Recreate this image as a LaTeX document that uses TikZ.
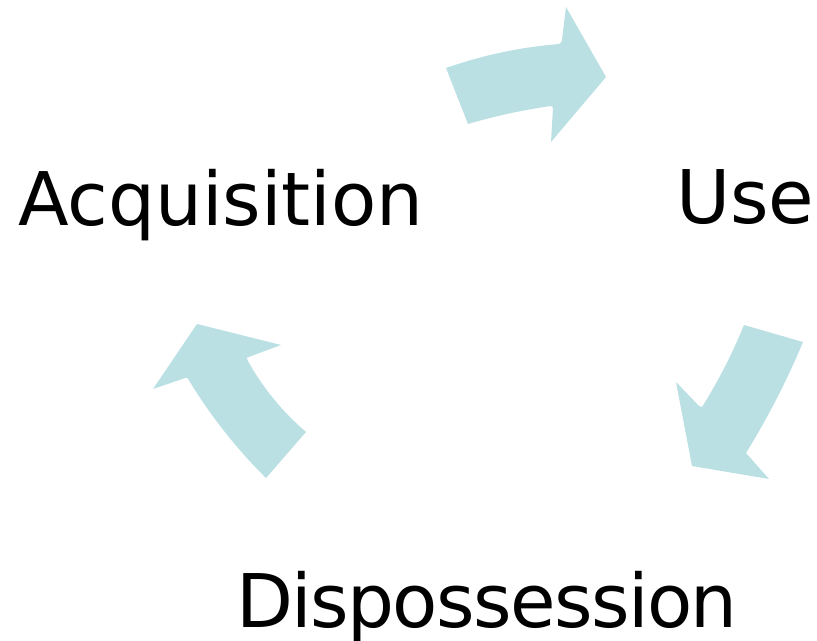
\documentclass[tikz,border=0pt]{standalone}
\usepackage{fontspec}
\setmainfont{DejaVu Sans}
\definecolor{arrowteal}{RGB}{186,224,228}
\begin{document}
\begin{tikzpicture}[x=0.75pt,y=-0.75pt,
  lbl/.style={inner sep=0pt,anchor=base west,font=\fontsize{55.5}{60}\selectfont},
  cyc/.style={fill=arrowteal,draw=none}]
\useasboundingbox (0,0) rectangle (817,641);
% top arrow (Acquisition -> Use)
\fill[cyc] (446,68) .. controls (482.7,55.2) and (520.3,47.2) .. (559,44) -- (561.7,41.7) -- (566,7) -- (606,77)
  -- (551,142) -- (553,108) -- (551,106) .. controls (522.9,110) and (495.3,116) .. (468,124) -- cycle;
% right arrow (Use -> Dispossession)
\fill[cyc] (744,325) .. controls (732.4,353.5) and (718.4,380.9) .. (702,407) -- (699,406) -- (676,382) -- (692,466)
  -- (769,479) -- (746,453) .. controls (767.9,417.5) and (786.9,380.5) .. (803,342) -- cycle;
% left arrow (Dispossession -> Acquisition)
\fill[cyc] (266,478) .. controls (235.8,448.1) and (209.7,414.8) .. (187.7,378.3) -- (186,377.7) -- (153,389) -- (197,324)
  -- (281,345) -- (246.7,357.7) -- (248.3,361.7) .. controls (263.4,388.5) and (282.7,412) .. (306,432) -- cycle;
\node[lbl] (acq) at (18,226) {Acquisition};
\node[lbl] (use) at (676,224) {Use};
\node[lbl] (disp) at (236,627) {\addfontfeatures{LetterSpace=-2.2}Dispossession};
\end{tikzpicture}
\end{document}
